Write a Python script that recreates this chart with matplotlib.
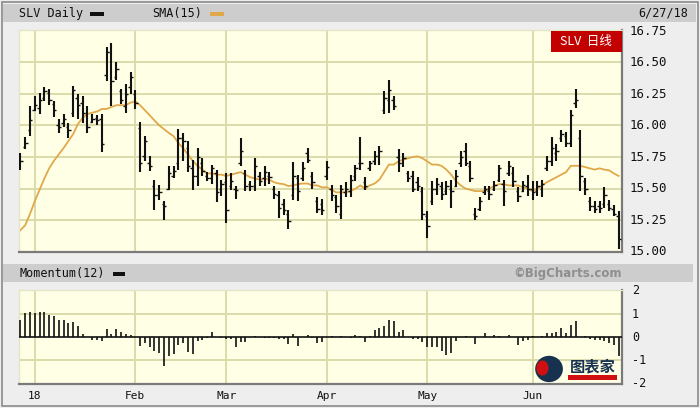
import matplotlib
matplotlib.use('Agg')
import matplotlib.pyplot as plt
from matplotlib.patches import Rectangle, Ellipse

# ---------------- data ----------------
high = [15.78, 15.91, 16.15, 16.23, 16.26, 16.30, 16.29, 16.19, 16.05, 16.09,
        16.02, 16.31, 16.25, 16.23, 16.15, 16.09, 16.08, 16.09, 16.62, 16.65,
        16.50, 16.29, 16.33, 16.42, 16.28, 16.03, 15.92, 15.76, 15.57, 15.53,
        15.40, 15.68, 15.68, 15.97, 15.94, 15.88, 15.73, 15.82, 15.74, 15.63,
        15.69, 15.65, 15.57, 15.62, 15.62, 15.52, 15.90, 15.65, 15.56, 15.74,
        15.63, 15.68, 15.63, 15.52, 15.48, 15.42, 15.33, 15.71, 15.61, 15.71,
        15.82, 15.63, 15.43, 15.42, 15.72, 15.53, 15.45, 15.53, 15.55, 15.61,
        15.69, 15.91, 15.59, 15.72, 15.80, 15.84, 16.27, 16.36, 16.23, 15.81,
        15.78, 15.64, 15.64, 15.59, 15.51, 15.32, 15.56, 15.58, 15.55, 15.56,
        15.57, 15.65, 15.80, 15.86, 15.72, 15.35, 15.43, 15.52, 15.52, 15.56,
        15.69, 15.57, 15.72, 15.67, 15.51, 15.56, 15.61, 15.56, 15.56, 15.57,
        15.76, 15.91, 15.85, 15.96, 15.95, 16.12, 16.29, 15.96, 15.58, 15.43,
        15.40, 15.40, 15.51, 15.41, 15.37, 15.32]
low = [15.65, 15.81, 15.92, 16.11, 16.09, 16.19, 16.16, 16.07, 15.94, 15.99,
       15.90, 16.07, 16.05, 16.02, 15.94, 16.02, 16.00, 15.79, 16.35, 16.15,
       16.36, 16.17, 16.10, 16.25, 16.13, 15.63, 15.72, 15.64, 15.33, 15.41,
       15.25, 15.49, 15.58, 15.65, 15.72, 15.63, 15.49, 15.52, 15.60, 15.56,
       15.54, 15.39, 15.44, 15.23, 15.49, 15.42, 15.68, 15.48, 15.48, 15.48,
       15.52, 15.52, 15.54, 15.42, 15.27, 15.29, 15.18, 15.41, 15.40, 15.56,
       15.70, 15.50, 15.31, 15.29, 15.57, 15.40, 15.31, 15.26, 15.43, 15.43,
       15.56, 15.65, 15.49, 15.64, 15.69, 15.69, 16.09, 16.10, 16.12, 15.63,
       15.67, 15.55, 15.47, 15.48, 15.25, 15.11, 15.37, 15.45, 15.41, 15.45,
       15.35, 15.51, 15.67, 15.68, 15.55, 15.25, 15.32, 15.45, 15.41, 15.48,
       15.55, 15.36, 15.60, 15.51, 15.39, 15.47, 15.44, 15.41, 15.44, 15.43,
       15.64, 15.68, 15.72, 15.87, 15.83, 15.83, 16.14, 15.48, 15.45, 15.32,
       15.31, 15.31, 15.35, 15.32, 15.28, 15.02]
open_ = [15.66, 15.83, 15.96, 16.12, 16.14, 16.22, 16.26, 16.17, 16.00, 16.02,
         15.99, 16.10, 16.22, 16.18, 16.10, 16.03, 16.06, 16.05, 16.40, 16.58,
         16.38, 16.27, 16.15, 16.30, 16.25, 15.98, 15.76, 15.70, 15.52, 15.45,
         15.38, 15.50, 15.60, 15.70, 15.90, 15.82, 15.66, 15.60, 15.70, 15.60,
         15.58, 15.62, 15.50, 15.55, 15.52, 15.50, 15.70, 15.62, 15.54, 15.52,
         15.60, 15.58, 15.60, 15.50, 15.45, 15.38, 15.30, 15.45, 15.58, 15.58,
         15.78, 15.60, 15.40, 15.38, 15.60, 15.50, 15.43, 15.30, 15.47, 15.48,
         15.60, 15.70, 15.55, 15.66, 15.72, 15.76, 16.12, 16.20, 16.20, 15.75,
         15.70, 15.62, 15.60, 15.55, 15.48, 15.28, 15.40, 15.50, 15.52, 15.48,
         15.50, 15.52, 15.70, 15.80, 15.68, 15.30, 15.34, 15.47, 15.48, 15.50,
         15.57, 15.54, 15.62, 15.62, 15.48, 15.48, 15.52, 15.50, 15.48, 15.50,
         15.66, 15.72, 15.78, 15.90, 15.92, 15.86, 16.18, 15.90, 15.56, 15.40,
         15.36, 15.36, 15.38, 15.38, 15.34, 15.28]
close = [15.72, 15.86, 16.04, 16.16, 16.20, 16.27, 16.20, 16.12, 15.99, 16.05,
         15.96, 16.28, 16.16, 16.10, 15.99, 16.05, 16.04, 15.85, 16.58, 16.35,
         16.45, 16.20, 16.25, 16.38, 16.18, 15.70, 15.88, 15.68, 15.45, 15.47,
         15.36, 15.62, 15.64, 15.90, 15.88, 15.68, 15.60, 15.75, 15.64, 15.58,
         15.66, 15.47, 15.54, 15.33, 15.56, 15.49, 15.80, 15.52, 15.52, 15.68,
         15.56, 15.63, 15.59, 15.46, 15.35, 15.33, 15.24, 15.60, 15.48, 15.66,
         15.73, 15.55, 15.34, 15.33, 15.67, 15.45, 15.36, 15.50, 15.50, 15.57,
         15.66, 15.70, 15.52, 15.70, 15.76, 15.80, 16.22, 16.28, 16.15, 15.70,
         15.74, 15.58, 15.50, 15.52, 15.30, 15.20, 15.50, 15.54, 15.46, 15.52,
         15.48, 15.60, 15.75, 15.70, 15.58, 15.28, 15.40, 15.50, 15.46, 15.53,
         15.66, 15.48, 15.68, 15.56, 15.44, 15.53, 15.50, 15.47, 15.52, 15.54,
         15.72, 15.82, 15.80, 15.93, 15.86, 16.08, 16.20, 15.60, 15.50, 15.36,
         15.34, 15.35, 15.45, 15.35, 15.30, 15.10]
sma15 = [15.17, 15.21, 15.30, 15.40, 15.49, 15.58, 15.66, 15.72, 15.77, 15.82,
         15.875, 15.93, 16.01, 16.06, 16.09, 16.10, 16.11, 16.13, 16.13, 16.145,
         16.16, 16.16, 16.16, 16.18, 16.19, 16.16, 16.12, 16.08, 16.04, 16.00,
         15.97, 15.94, 15.915, 15.86, 15.82, 15.77, 15.72, 15.68, 15.65, 15.62,
         15.62, 15.61, 15.61, 15.60, 15.61, 15.62, 15.63, 15.61, 15.59, 15.58,
         15.57, 15.58, 15.57, 15.55, 15.54, 15.535, 15.52, 15.525, 15.535, 15.54,
         15.54, 15.525, 15.525, 15.51, 15.51, 15.49, 15.47, 15.47, 15.47, 15.48,
         15.50, 15.525, 15.50, 15.525, 15.54, 15.57, 15.63, 15.69, 15.69, 15.715,
         15.73, 15.74, 15.75, 15.755, 15.74, 15.715, 15.69, 15.69, 15.68, 15.65,
         15.61, 15.56, 15.525, 15.50, 15.49, 15.48, 15.48, 15.48, 15.50, 15.52,
         15.535, 15.535, 15.525, 15.525, 15.525, 15.51, 15.50, 15.48, 15.50, 15.525,
         15.55, 15.57, 15.59, 15.61, 15.63, 15.68, 15.68, 15.68, 15.67, 15.66,
         15.65, 15.66, 15.65, 15.645, 15.62, 15.60]
momentum = [0.75, 1.03, 1.10, 1.03, 1.10, 1.08, 0.96, 0.89, 0.75, 0.75,
            0.60, 0.66, 0.49, 0.14, 0.02, -0.14, -0.14, -0.17, 0.34, 0.14,
            0.34, 0.20, 0.14, 0.09, 0.02, -0.40, -0.26, -0.43, -0.62, -0.69,
            -1.24, -0.80, -0.72, -0.33, -0.26, -0.66, -0.75, -0.16, -0.11, -0.06,
            0.23, 0.02, -0.05, -0.07, -0.09, -0.43, -0.23, -0.23, -0.02, 0.06,
            0.02, -0.03, -0.05, -0.05, -0.08, -0.10, -0.29, 0.14, -0.37, 0.02,
            0.10, -0.05, -0.26, -0.23, 0.02, 0.03, -0.02, 0.06, 0.02, -0.03,
            0.09, 0.06, -0.23, 0.06, 0.32, 0.39, 0.46, 0.75, 0.68, 0.20,
            0.29, 0.02, -0.09, -0.09, -0.20, -0.43, -0.43, -0.43, -0.62, -0.76,
            -0.69, -0.19, 0.02, 0.06, 0.02, -0.29, 0.02, 0.17, 0.02, 0.09,
            0.03, 0.02, 0.09, 0.02, -0.33, -0.17, -0.11, 0.06, 0.02, 0.03,
            0.17, 0.17, 0.20, 0.39, 0.17, 0.53, 0.70, 0.02, 0.03, -0.09,
            -0.11, -0.11, -0.19, -0.26, -0.33, -0.83]
month_labels = ['18', 'Feb', 'Mar', 'Apr', 'May', 'Jun']
month_index = [3, 24, 43, 64, 85, 107]
price_ticks = [15.00, 15.25, 15.50, 15.75, 16.00, 16.25, 16.50, 16.75]
mom_ticks = [2, 1, 0, -1, -2]

# ---------------- layout ----------------
W, H = 700, 408
fig = plt.figure(figsize=(7, 4.08), dpi=100, facecolor='#EEEEEE')

def box(x0, y0, x1, y1):
    return [x0 / W, 1 - y1 / H, (x1 - x0) / W, (y1 - y0) / H]

MONO = 'DejaVu Sans Mono'
bg = fig.add_axes([0, 0, 1, 1], zorder=0)
bg.set_xlim(0, W); bg.set_ylim(H, 0); bg.axis('off')
bg.add_patch(Rectangle((1.5, 1.5), 696, 404, facecolor='#EEEEEE', edgecolor='#8A8A8A', lw=1.2))
bg.add_patch(Rectangle((3, 4), 693, 18, facecolor='#CDCDCD', edgecolor='none'))
bg.add_patch(Rectangle((3, 264), 690, 18, facecolor='#CDCDCD', edgecolor='none'))
bg.text(19, 13.5, 'SLV Daily', fontfamily=MONO, fontsize=8.5, va='center', ha='left', color='#111')
bg.add_patch(Rectangle((90, 11.5), 14, 4, facecolor='#111', edgecolor='none'))
bg.text(152, 13.5, 'SMA(15)', fontfamily=MONO, fontsize=8.5, va='center', ha='left', color='#111')
bg.add_patch(Rectangle((210, 11.5), 14, 4, facecolor='#E0A84A', edgecolor='none'))
bg.text(688, 13.5, '6/27/18', fontfamily=MONO, fontsize=8.5, va='center', ha='right', color='#111')
bg.text(19, 273.5, 'Momentum(12)', fontfamily=MONO, fontsize=8.5, va='center', ha='left', color='#111')
bg.add_patch(Rectangle((113, 271.5), 12, 4, facecolor='#111', edgecolor='none'))
bg.text(622, 273.5, '\u00a9BigCharts.com', fontfamily='DejaVu Sans', fontweight='bold',
        fontsize=8.5, va='center', ha='right', color='#8E8E8E')

x_lo, x_hi = -0.3, 125.7
n = len(close)
idx = list(range(n))
grid_c = '#DADAAA'

# main price panel
ax = fig.add_axes(box(19, 30, 622, 252), zorder=1)
ax.set_facecolor('#FFFFE6')
ax.set_xlim(x_lo, x_hi)
ax.set_ylim(14.998, 16.755)
for p in price_ticks[1:-1]:
    ax.axhline(p, color=grid_c, lw=1.4, zorder=0)
for m in month_index:
    ax.axvline(m, color=grid_c, lw=1.4, zorder=0)
ax.vlines(idx, low, high, color='#111111', lw=1.5, zorder=3)
ax.hlines(open_, [i - 0.5 for i in idx], idx, color='#111111', lw=1.0, zorder=3)
ax.hlines(close, idx, [i + 0.5 for i in idx], color='#111111', lw=1.0, zorder=3)
ax.plot(idx, sma15, color='#E0A84A', lw=1.3, zorder=2)
ax.set_xticks([]); ax.set_yticks([])
for s in ['top', 'left']:
    ax.spines[s].set_color('#E4E4C8'); ax.spines[s].set_linewidth(1)
for s in ['bottom', 'right']:
    ax.spines[s].set_color('#7A7A7A'); ax.spines[s].set_linewidth(1.6)
for p in price_ticks:
    y = 251.7 - (p - 15.0) / 0.25 * 31.45
    bg.text(630, y, f'{p:.2f}', fontfamily=MONO, fontsize=9, va='center', ha='left', color='#111')

# red label
lab = fig.add_axes(box(551, 30.5, 621.5, 51.5), zorder=4)
lab.set_facecolor('#C20000'); lab.set_xticks([]); lab.set_yticks([])
for s in lab.spines.values():
    s.set_visible(False)
lab.text(0.5, 0.5, 'SLV  日线', color='white', fontsize=9, ha='center', va='center',
         fontfamily=['Noto Sans CJK SC', 'DejaVu Sans'], transform=lab.transAxes)

# momentum panel
am = fig.add_axes(box(19, 290, 622, 384), zorder=1)
am.set_facecolor('#FFFFE6')
am.set_xlim(x_lo, x_hi)
am.set_ylim(-2.03, 2.03)
for v in [1, -1]:
    am.axhline(v, color=grid_c, lw=1.4, zorder=0)
for m in month_index:
    am.axvline(m, color=grid_c, lw=1.4, zorder=0)
am.vlines(idx, 0, momentum, color='#111111', lw=1.2, zorder=3)
am.axhline(0, color='#111111', lw=1.2, zorder=3)
am.set_xticks([]); am.set_yticks([])
for s in ['top', 'left']:
    am.spines[s].set_color('#E4E4C8'); am.spines[s].set_linewidth(1)
for s in ['bottom', 'right']:
    am.spines[s].set_color('#7A7A7A'); am.spines[s].set_linewidth(1.6)
for v in mom_ticks:
    y = 337.3 - v * 23.2
    bg.text(632, y, f'{v:d}', fontfamily=MONO, fontsize=8.5, va='center', ha='left', color='#111')
for lbl, m in zip(month_labels, month_index):
    am.text(m, -0.07, lbl, transform=am.get_xaxis_transform(), fontfamily=MONO,
            fontsize=8, ha='center', va='top', color='#111')

# watermark logo (approximation)
am.add_patch(Ellipse((0.879, 0.16), 0.046, 0.28, transform=am.transAxes,
                     facecolor='#17324F', edgecolor='none', zorder=4))
am.add_patch(Ellipse((0.868, 0.17), 0.02, 0.16, transform=am.transAxes,
                     facecolor='#D01010', edgecolor='none', zorder=5))
am.text(0.952, 0.19, '图表家', transform=am.transAxes, fontsize=11, color='#17324F',
        fontweight='bold', ha='center', va='center',
        fontfamily=['Noto Sans CJK SC', 'DejaVu Sans'], zorder=5)
am.add_patch(Rectangle((0.910, 0.04), 0.082, 0.055, transform=am.transAxes,
                       facecolor='#D01010', edgecolor='none', zorder=5))

fig.savefig('out.png', dpi=100, facecolor=fig.get_facecolor())
